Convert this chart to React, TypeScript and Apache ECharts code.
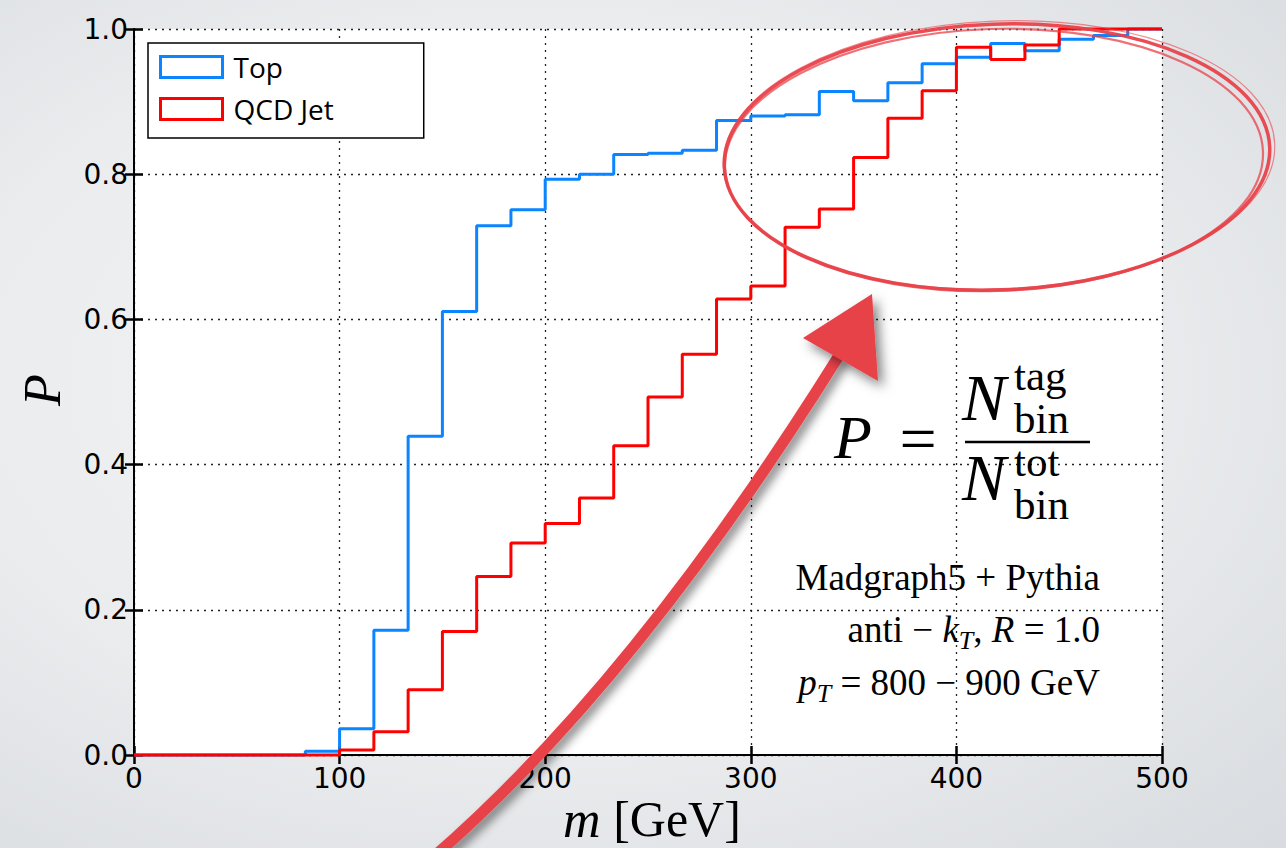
import React, { useEffect, useRef } from "react";
import * as echarts from "echarts";

// Bin lower edges (GeV) and the final upper edge
const massEdges = [0, 16.67, 33.33, 50, 66.67, 83.33, 100, 116.67, 133.33, 150, 166.67, 183.33, 200, 216.67, 233.33, 250, 266.67, 283.33, 300, 316.67, 333.33, 350, 366.67, 383.33, 400, 416.67, 433.33, 450, 466.67, 483.33, 500];

// Tagging probability per bin
const topValues = [0, 0, 0, 0, 0, 0.005, 0.036, 0.172, 0.439, 0.611, 0.729, 0.751, 0.793, 0.8, 0.827, 0.829, 0.833, 0.874, 0.88, 0.882, 0.914, 0.901, 0.926, 0.952, 0.961, 0.98, 0.97, 0.986, 0.991, 1.0];
const qcdValues = [0, 0, 0, 0, 0, 0, 0.007, 0.032, 0.09, 0.17, 0.246, 0.292, 0.319, 0.354, 0.426, 0.493, 0.552, 0.628, 0.646, 0.727, 0.752, 0.823, 0.877, 0.915, 0.975, 0.958, 0.978, 1.0, 1.0, 1.0];

const seriesNames = ["Top", "QCD Jet"];
const xTicks = [0, 100, 200, 300, 400, 500];
const yTicks = [0, 0.2, 0.4, 0.6, 0.8, 1.0];

const BLUE = "#0a84ff";
const RED = "#ff0000";
const MARK = "#e8424a";
const SERIF = '"Liberation Serif", "DejaVu Serif", serif';

function stepData(vals: number[]) {
  const pts: number[][] = [];
  for (let i = 0; i < vals.length; i++) pts.push([massEdges[i], vals[i]]);
  pts.push([massEdges[massEdges.length - 1], vals[vals.length - 1]]);
  return pts;
}

export default function App() {
  const ref = useRef<HTMLDivElement>(null);
  useEffect(() => {
    if (!ref.current) return;
    const chart = echarts.init(ref.current, undefined, { renderer: "svg" });
    const axisCommon = {
      axisLine: { show: true, lineStyle: { color: "#000", width: 2 } },
      axisTick: { show: true, inside: true, length: 9, lineStyle: { color: "#000", width: 2.5 } },
    };
    const textBase = { fill: "#000", fontFamily: SERIF };
    const scriptStyle = { ...textBase, fontSize: 43, lineHeight: 43, align: "left", verticalAlign: "middle" };
    const option: any = {
      animation: false,
      grid: { left: 134, right: 124, top: 29, bottom: 93, show: true, backgroundColor: "#ffffff", borderWidth: 0 },
      legend: {
        orient: "vertical",
        left: 148,
        top: 43,
        selectedMode: false,
        icon: "rect",
        itemWidth: 62,
        itemHeight: 21,
        itemGap: 14,
        padding: [10, 90, 15, 11],
        backgroundColor: "#ffffff",
        borderColor: "#000",
        borderWidth: 1.5,
        borderRadius: 0,
        textStyle: { fontFamily: '"Open Sans", sans-serif', fontSize: 28, color: "#000", lineHeight: 28, padding: [0, 0, 0, 6] },
        data: [
          { name: seriesNames[0], itemStyle: { color: "#ffffff", borderColor: BLUE, borderWidth: 3 } },
          { name: seriesNames[1], itemStyle: { color: "#ffffff", borderColor: RED, borderWidth: 3 } },
        ],
      },
      xAxis: [
        {
          type: "value", position: "bottom", min: 0, max: 500, interval: 100,
          ...axisCommon,
          axisLabel: { show: true, margin: 9, fontFamily: '"DejaVu Sans", sans-serif', fontSize: 28, color: "#000", formatter: (v: number) => (xTicks.includes(v) ? String(v) : "") },
          splitLine: { show: true, lineStyle: { color: "#222", width: 1.3, type: [2, 5] } },
        },
        {
          type: "value", position: "top", min: 0, max: 500, interval: 100,
          ...axisCommon, axisLabel: { show: false }, splitLine: { show: false },
        },
      ],
      yAxis: [
        {
          type: "value", position: "left", min: 0, max: 1, interval: 0.2,
          ...axisCommon,
          axisLabel: { show: true, margin: 6, fontFamily: '"DejaVu Sans", sans-serif', fontSize: 28, color: "#000", formatter: (v: number) => (yTicks.some((t) => Math.abs(t - v) < 1e-9) ? v.toFixed(1) : "") },
          splitLine: { show: true, lineStyle: { color: "#222", width: 1.3, type: [2, 5] } },
        },
        {
          type: "value", position: "right", min: 0, max: 1, interval: 0.2,
          ...axisCommon, axisLabel: { show: false }, splitLine: { show: false },
        },
      ],
      series: [
        {
          name: seriesNames[0], type: "line", step: "end", showSymbol: false, clip: false, z: 3,
          data: stepData(topValues),
          lineStyle: { color: BLUE, width: 3 },
          itemStyle: { color: "#ffffff", borderColor: BLUE, borderWidth: 3 },
        },
        {
          name: seriesNames[1], type: "line", step: "end", showSymbol: false, clip: false, z: 4,
          data: stepData(qcdValues),
          lineStyle: { color: RED, width: 3 },
          itemStyle: { color: "#ffffff", borderColor: RED, borderWidth: 3 },
        },
      ],
      graphic: [
        // axis names
        {
          type: "text", z: 50,
          style: {
            ...textBase, x: 652, y: 819, align: "center", verticalAlign: "middle",
            text: "{i|m}{r| [GeV]}",
            rich: { i: { fontFamily: SERIF, fontStyle: "italic", fontSize: 52 }, r: { fontFamily: SERIF, fontSize: 50 } },
          },
        },
        {
          type: "text", z: 50, x: 42, y: 390, rotation: Math.PI / 2,
          style: { ...textBase, x: 0, y: 0, text: "P", fontStyle: "italic", fontSize: 52, align: "center", verticalAlign: "middle" },
        },
        // formula
        { type: "text", z: 50, style: { ...textBase, x: 834, y: 437, text: "P", fontStyle: "italic", fontSize: 62, align: "left", verticalAlign: "middle" } },
        { type: "text", z: 50, style: { ...textBase, x: 918, y: 438, text: "=", fontSize: 66, align: "center", verticalAlign: "middle" } },
        { type: "line", z: 50, shape: { x1: 965, y1: 442, x2: 1090, y2: 442 }, style: { stroke: "#000", lineWidth: 2.5 } },
        { type: "text", z: 50, style: { ...textBase, x: 962, y: 397, text: "N", fontStyle: "italic", fontSize: 66, lineHeight: 66, align: "left", verticalAlign: "middle" } },
        { type: "text", z: 50, style: { ...scriptStyle, x: 1014, y: 397, text: "tag\nbin" } },
        { type: "text", z: 50, style: { ...textBase, x: 962, y: 477, text: "N", fontStyle: "italic", fontSize: 66, lineHeight: 66, align: "left", verticalAlign: "middle" } },
        { type: "text", z: 50, style: { ...scriptStyle, x: 1014, y: 483, text: "tot\nbin" } },
        // info lines
        { type: "text", z: 50, style: { ...textBase, x: 1100, y: 577, text: "Madgraph5 + Pythia", fontSize: 37, align: "right", verticalAlign: "middle" } },
        {
          type: "text", z: 50,
          style: {
            ...textBase, x: 1100, y: 629, align: "right", verticalAlign: "middle",
            text: "{r|anti − }{i|k}{s|T}{r|, }{i|R}{r| = 1.0}",
            rich: {
              r: { fontFamily: SERIF, fontSize: 37 },
              i: { fontFamily: SERIF, fontSize: 37, fontStyle: "italic" },
              s: { fontFamily: SERIF, fontSize: 26, fontStyle: "italic", padding: [22, 0, 0, 0] },
            },
          },
        },
        {
          type: "text", z: 50,
          style: {
            ...textBase, x: 1100, y: 682, align: "right", verticalAlign: "middle",
            text: "{i|p}{s|T}{r| = 800 − 900 GeV}",
            rich: {
              r: { fontFamily: SERIF, fontSize: 37 },
              i: { fontFamily: SERIF, fontSize: 37, fontStyle: "italic" },
              s: { fontFamily: SERIF, fontSize: 26, fontStyle: "italic", padding: [22, 0, 0, 0] },
            },
          },
        },
        // hand-drawn ellipse
        { type: "ellipse", z: 80, x: 997, y: 157, rotation: 0.035, shape: { cx: 0, cy: 0, rx: 273, ry: 133 }, style: { fill: "none", stroke: MARK, lineWidth: 3.5, opacity: 0.95 } },
        { type: "ellipse", z: 80, x: 994, y: 160, rotation: 0.03, shape: { cx: 0, cy: 0, rx: 269, ry: 131 }, style: { fill: "none", stroke: MARK, lineWidth: 2.2, opacity: 0.75 } },
        { type: "ellipse", z: 80, x: 999, y: 155, rotation: 0.04, shape: { cx: 0, cy: 0, rx: 276, ry: 134 }, style: { fill: "none", stroke: MARK, lineWidth: 1.2, opacity: 0.6 } },
        // hand-drawn arrow
        {
          type: "bezierCurve", z: 80,
          shape: { x1: 430, y1: 860, x2: 840, y2: 354, cpx1: 634, cpy1: 684 },
          style: { fill: "none", stroke: MARK, lineWidth: 11, lineCap: "butt", shadowBlur: 10, shadowColor: "rgba(0,0,0,0.45)", shadowOffsetX: 5, shadowOffsetY: 5 },
        },
        {
          type: "polygon", z: 81,
          shape: { points: [[872, 294], [803, 338], [878, 381]] },
          style: { fill: MARK, shadowBlur: 12, shadowColor: "rgba(0,0,0,0.5)", shadowOffsetX: 5, shadowOffsetY: 6 },
        },
      ],
    };
    chart.setOption(option);
    return () => chart.dispose();
  }, []);
  return (
    <div
      style={{
        position: "absolute", left: 0, top: 0, width: 1286, height: 848,
        background: "radial-gradient(ellipse at 42% 45%, #f4f5f7 0%, #eaecee 55%, #d8dbdf 100%)",
      }}
    >
      <div ref={ref} style={{ width: 1286, height: 848 }} />
    </div>
  );
}
